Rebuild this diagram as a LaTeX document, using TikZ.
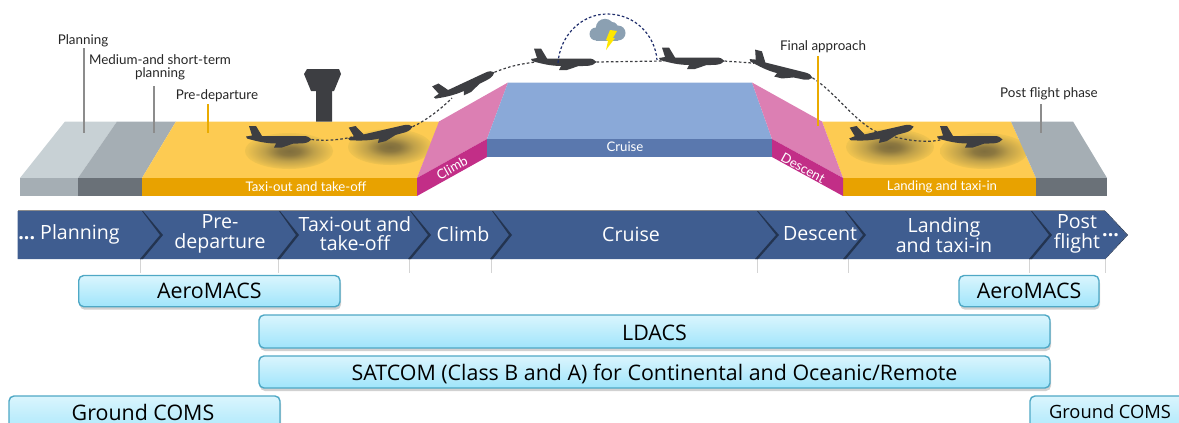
\documentclass[tikz,border=0pt]{standalone}
\usepackage{fontspec}
\setmainfont{Open Sans}
\newfontfamily\toplabel{Lato}
\usetikzlibrary{calc}
\definecolor{darkjet}{HTML}{3D3E42}
\definecolor{planA}{HTML}{C8D1D5}
\definecolor{planB}{HTML}{A5AEB4}
\definecolor{planC}{HTML}{6A7178}
\definecolor{orangeT}{HTML}{FDCB52}
\definecolor{orangeS}{HTML}{E8A200}
\definecolor{pinkT}{HTML}{DC7FB3}
\definecolor{pinkS}{HTML}{C22E87}
\definecolor{cruiseT}{HTML}{8AA9D8}
\definecolor{cruiseS}{HTML}{5A78AE}
\definecolor{band}{HTML}{3F5D90}
\definecolor{bandD}{HTML}{233450}
\definecolor{tick}{HTML}{D4D4D4}
\definecolor{boxline}{HTML}{4FA8C5}
\definecolor{boxtop}{HTML}{DAF5FD}
\definecolor{boxbot}{HTML}{A0E5FB}
\definecolor{arcblue}{HTML}{1F2D6B}
\definecolor{cloudc}{HTML}{8BA0B2}
\definecolor{boltc}{HTML}{FFE600}
\pgfdeclareradialshading{softjet}{\pgfpoint{0bp}{0bp}}{%
  rgb(0bp)=(0.50,0.43,0.24);
  rgb(6bp)=(0.55,0.47,0.25);
  rgb(14bp)=(0.75,0.63,0.29);
  rgb(24bp)=(0.93,0.76,0.31);
  rgb(33bp)=(0.992,0.796,0.322);
  rgb(50bp)=(0.992,0.796,0.322)}
\tikzset{
  x=1pt,y=-1pt,
  jet/.pic={
    \fill[darkjet] (32.5,0) .. controls (31,-2.5) and (28,-3.5) .. (24,-3.5)
      -- (-17,-3.5) -- (-23,-13.5) -- (-30,-13.5) -- (-27,-4) -- (-33,-3) -- (-32,-1)
      .. controls (-22,2) and (-12,4) .. (-3,4) -- (-5,8) -- (3,8) -- (14,4.2) -- (24,3.8)
      .. controls (28,3.5) and (31,2) .. cycle;
    \coordinate (-nose) at (32.5,0);
    \coordinate (-tail) at (-28,0);
  },
  toplab/.style={font=\toplabel\fontsize{13.4}{13.5}\selectfont,text=black!85,align=center,inner sep=0pt},
  striplab/.style={font=\toplabel\fontsize{13.2}{14}\selectfont,text=white,inner sep=0pt},
  bandlab/.style={font=\fontsize{19.6}{19.5}\selectfont,text=white,align=center,inner sep=0pt},
  leadergray/.style={draw=black!45,line width=1.2pt},
  leaderorange/.style={draw=orangeS!90!yellow,line width=1.2pt},
  flight/.style={draw=darkjet,line width=1.2pt,dash pattern=on 2.6pt off 2.2pt},
  tickline/.style={draw=tick,line width=1pt},
  techbox/.style={draw=boxline,line width=1.4pt,rounded corners=5pt,top color=boxtop,bottom color=boxbot,
    text=black,inner sep=0pt,font=\fontsize{21.4}{22}\selectfont,anchor=center,text depth=0pt},
  boxshadow/.style={fill=black!18,rounded corners=5pt},
  softshadow/.style={shading=softjet},
}
\begin{document}
\begin{tikzpicture}
\useasboundingbox (0,0) rectangle (1179,423);
\clip (0,0) rectangle (1179,423);
% strip
\fill[planA] (65,121.5) -- (117,121.5) -- (78,178) -- (20,178) -- cycle;
\fill[planB] (20,178) rectangle (78,196);
\fill[planB] (117,121.5) -- (176,121.5) -- (142,178) -- (78,178) -- cycle;
\fill[planC] (78,178) rectangle (142,196);
\fill[orangeT] (176,121.5) -- (440,121.5) -- (417,178) -- (142,178) -- cycle;
\fill[orangeS] (142,178) rectangle (417,196);
\fill[orangeT] (822,121.5) -- (1011,121.5) -- (1036,178) -- (843,178) -- cycle;
\fill[orangeS] (843,178) rectangle (1036,196);
% shadows
\shade[softshadow] (289,151) ellipse [x radius=44, y radius=18];
\shade[softshadow] (390,147) ellipse [x radius=42, y radius=18];
\shade[softshadow] (890,147) ellipse [x radius=44, y radius=18];
\shade[softshadow] (984,151) ellipse [x radius=44, y radius=18];
% remaining surfaces
\fill[pinkT] (417,178) -- (439,121.5) -- (508,82.5) -- (487,139) -- cycle;
\fill[pinkS] (417,178) -- (487,139) -- (487,157) -- (417,196) -- cycle;
\fill[cruiseT] (508,82.5) -- (752,82.5) -- (772,139) -- (487,139) -- cycle;
\fill[cruiseS] (487,139) rectangle (772,157);
\fill[pinkT] (752,82.5) -- (822,121.5) -- (843,178) -- (772,139) -- cycle;
\fill[pinkS] (772,139) -- (843,178) -- (843,196) -- (772,157) -- cycle;
\fill[planB] (1011,121.5) -- (1073,121.5) -- (1107,178) -- (1036,178) -- cycle;
\fill[planC] (1036,178) rectangle (1107,196);
% tower
\fill[darkjet] (307,69) -- (339,69) -- (341,74) -- (334,91) -- (332,91) -- (332,121.5) -- (316,121.5) -- (316,91) -- (311,91) -- (304,74) -- cycle;
% planes
\pic (p1) at (279,139.5) {jet};
\pic[rotate=13] (p2) at (381,134) {jet};
\pic[rotate=25] (p3) at (465,86) {jet};
\pic (p4) at (564,62) {jet};
\pic (p5) at (692,61) {jet};
\pic[rotate=-14] (p6) at (781,70) {jet};
\pic[rotate=13] (p7) at (882,134) {jet};
\pic (p8) at (970,139.5) {jet};
% flight path
\coordinate (tail3) at (452,98);
\coordinate (wpA) at (877,132);
\coordinate (wpB) at (895,137);
\draw[flight] (p1-nose) .. controls (325,141) and (340,140) .. (352,137);
\draw[flight] (p2-nose) .. controls (425,121) and (440,110) .. (tail3);
\draw[flight] (p3-nose) .. controls (510,66) and (520,64) .. (p4-tail);
\draw[flight] (p4-nose) -- (p5-tail);
\draw[flight] (p5-nose) .. controls (735,62) and (742,62) .. (p6-tail);
\draw[flight] (p6-nose) .. controls (835,92) and (855,122) .. (wpA);
\draw[flight] (wpB) .. controls (910,141) and (930,143) .. (p8-tail);
% weather detour
\coordinate (arcS) at (558,63);
\coordinate (arcT) at (607,14);
\coordinate (arcE) at (657,60);
\draw[draw=arcblue,line width=1.2pt,dash pattern=on 2.6pt off 2.2pt]
  (arcS) .. controls (560,35) and (582,14) .. (arcT) .. controls (635,14) and (655,35) .. (arcE);
% cloud
\fill[cloudc] (605,28) circle (9.2);
\fill[cloudc] (612,28) circle (6);
\fill[cloudc] (596,34) circle (6.5);
\fill[cloudc] (618,33) circle (7.5);
\fill[cloudc] (596,30) rectangle (618,40.5);
\fill[boltc] (610,30) -- (617,31) -- (613,38) -- (615,38) -- (606,50) -- (608,41) -- (606,40) -- cycle;
% top labels and leaders
\node[toplab] (lblPlan) at (83,41) {Planning};
\node[toplab] (lblMed) at (160,67.5) {Medium-and short-term\\planning};
\node[toplab] (lblPre) at (217,96) {Pre-departure};
\node[toplab] (lblFin) at (823,47) {Final approach};
\node[toplab] (lblPost) at (1049,94) {Post flight phase};
\coordinate (l1a) at (84,48); \coordinate (l1b) at (84,133);
\coordinate (l2a) at (154,86); \coordinate (l2b) at (154,133);
\coordinate (l3a) at (208,104); \coordinate (l3b) at (208,133);
\coordinate (l4a) at (818,56); \coordinate (l4b) at (818,126);
\coordinate (l5a) at (1041,104); \coordinate (l5b) at (1041,133);
\draw[leadergray] (l1a) -- (l1b);
\draw[leadergray] (l2a) -- (l2b);
\draw[leaderorange] (l3a) -- (l3b);
\draw[leaderorange] (l4a) -- (l4b);
\draw[leadergray] (l5a) -- (l5b);
% strip labels
\node[striplab] (sTaxi) at (306,187) {Taxi-out and take-off};
\node[striplab,rotate=29] (sClimb) at (452,168) {Climb};
\node[striplab] (sCruise) at (625,147) {Cruise};
\node[striplab,rotate=-29] (sDesc) at (803,168) {Descent};
\node[striplab] (sLand) at (942,187) {Landing and taxi-in};
% ticks
\foreach \tx in {140,278,409.5,491.5,757.5,848,1029,1105}
  \draw[tickline] (\tx,259) -- (\tx,273);
% band
\fill[black!45] (18,209.5) rectangle (1105,212);
\fill[band] (17.5,211) -- (1105,211) -- (1127,235) -- (1105,259) -- (17.5,259) -- cycle;
\fill[bandD] (1105,211) -- (1127,235) -- (1105,259) -- (1105.5,259) -- (1128,235) -- (1105.5,211) -- cycle;
\foreach \xa/\xb in {143/162,280/298,411/430,493/511,758/778,846/865,1032/1051}{
  \fill[bandD] (\xa,211) -- (\xb+1,235) -- (\xa,259) -- (\xa-3,259) -- (\xb-2,235) -- (\xa-1,211) -- cycle;
}
\node[bandlab] (bPlan) at (69,234) {\textbf{...}\ Planning};
\node[bandlab] (bPre) at (220,234) {Pre-\\departure};
\node[bandlab] (bTaxi) at (355,233.5) {Taxi-out and\\take-off};
\node[bandlab] (bClimb) at (463,234) {Climb};
\node[bandlab] (bCruise) at (631,234) {Cruise};
\node[bandlab] (bDesc) at (820,234) {Descent};
\node[bandlab] (bLand) at (944,235) {Landing\\and taxi-in};
\node[bandlab] (bPost) at (1077,234) {Post\\flight};
\node[bandlab,anchor=west] (bDots) at (1102,235) {\textbf{...}};
% tech boxes
\foreach \xa/\ya/\xb/\yb in {78.7/275.5/340/306.7,959/275.5/1099/306.7,259/315/1050/348,259/356/1050/388,9/396/280/440,1030/396/1200/440}
  \fill[boxshadow] (\xa+1,\ya+3) rectangle (\xb+1,\yb+3);
\node[techbox,text height=15pt,minimum width=261.3pt,minimum height=31.2pt] (aeroL) at (209.35,291.1) {AeroMACS};
\node[techbox,text height=15pt,minimum width=140pt,minimum height=31.2pt] (aeroR) at (1029,291.1) {AeroMACS};
\node[techbox,text height=18.2pt,minimum width=791pt,minimum height=33pt] (ldacs) at (654.5,331.5) {LDACS};
\node[techbox,text height=17.2pt,minimum width=791pt,minimum height=32pt] (satcom) at (654.5,372) {SATCOM (Class B and A) for Continental and Oceanic/Remote};
\node[techbox,minimum width=271pt,minimum height=44pt] (gndL) at (144.5,418) {};
\node[techbox,minimum width=170pt,minimum height=44pt] (gndR) at (1115,418) {};
\node[inner sep=0pt,font=\fontsize{21.4}{22}\selectfont] (gndLt) at (143,412) {Ground COMS};
\node[inner sep=0pt,font=\fontsize{18.3}{19}\selectfont] (gndRt) at (1110,411.5) {Ground COMS};
\end{tikzpicture}
\end{document}
